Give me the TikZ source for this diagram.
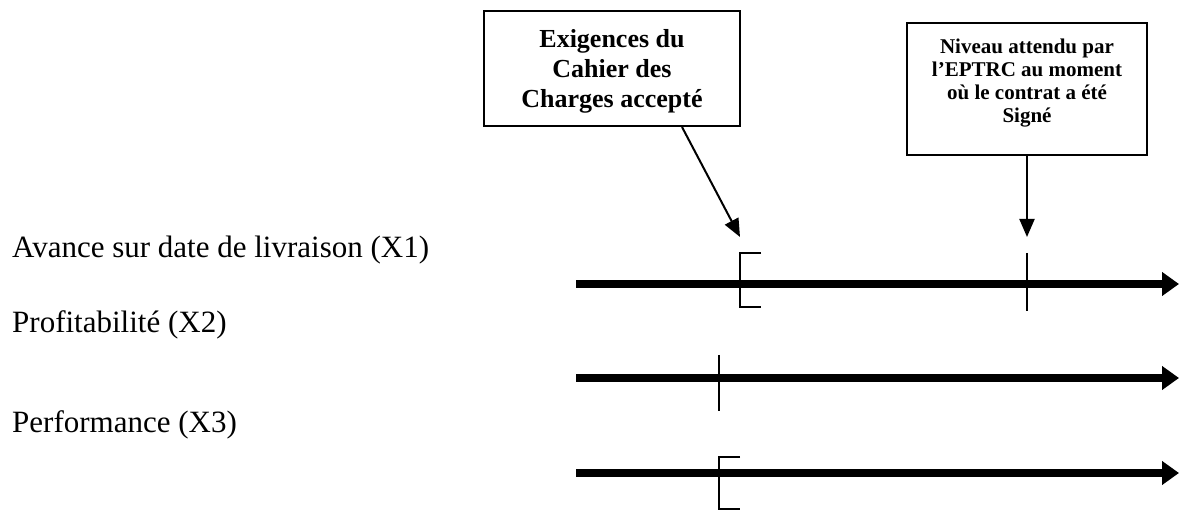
\documentclass[tikz,border=0pt]{standalone}
\usepackage{fontspec}
\setmainfont{Liberation Serif}
\usetikzlibrary{arrows.meta}
\begin{document}
\begin{tikzpicture}[x=1pt,y=-1pt,
  labeltext/.style={anchor=base west,inner sep=0pt,font=\fontsize{31}{37}\selectfont},
  notebox/.style={draw,line width=2pt,inner sep=0pt},
  boxtext/.style={align=center,inner sep=0pt},
  pointer/.style={line width=2pt,-{Triangle[length=18pt,width=15pt]}},
  axis/.style={line width=8pt,-{Triangle[length=17pt,width=23pt]}},
  marker/.style={line width=2pt}]
\useasboundingbox (0,0) rectangle (1179,510);

% boxes with the reference levels
\node[notebox,minimum width=256pt,minimum height=115pt] (b1) at (612,68.5) {};
\node[boxtext,font=\bfseries\fontsize{26}{30}\selectfont] (b1t) at (612,71)
  {Exigences du\\Cahier des\\Charges accepté};
\node[notebox,minimum width=240pt,minimum height=132pt] (b2) at (1027,89) {};
\node[boxtext,font=\bfseries\fontsize{21}{22.8}\selectfont] (b2t) at (1027,83)
  {Niveau attendu par\\l’EPTRC au moment\\où le contrat a été\\Signé};

% criteria labels
\node[labeltext] (l1) at (12,258) {Avance sur date de livraison (X1)};
\node[labeltext] (l2) at (12,333) {Profitabilité (X2)};
\node[labeltext] (l3) at (12,433) {Performance (X3)};

% axes
\coordinate (a1s) at (576,284); \coordinate (a1e) at (1179,284);
\coordinate (a2s) at (576,378); \coordinate (a2e) at (1179,378);
\coordinate (a3s) at (576,473); \coordinate (a3e) at (1179,473);
\draw[axis] (a1s) -- (a1e);
\draw[axis] (a2s) -- (a2e);
\draw[axis] (a3s) -- (a3e);

% markers on the axes
\draw[marker] (761,253) -| (740,307) -- (761,307);
\draw[marker] (1027,253) -- (1027,311);
\draw[marker] (719,355) -- (719,411);
\draw[marker] (740,457) -| (719,509) -- (740,509);

% pointers from the boxes
\coordinate (t1) at (740,237);
\coordinate (t2) at (1027,237);
\draw[pointer] ([xshift=70pt]b1.south) -- (t1);
\draw[pointer] (b2.south) -- (t2);
\end{tikzpicture}
\end{document}
